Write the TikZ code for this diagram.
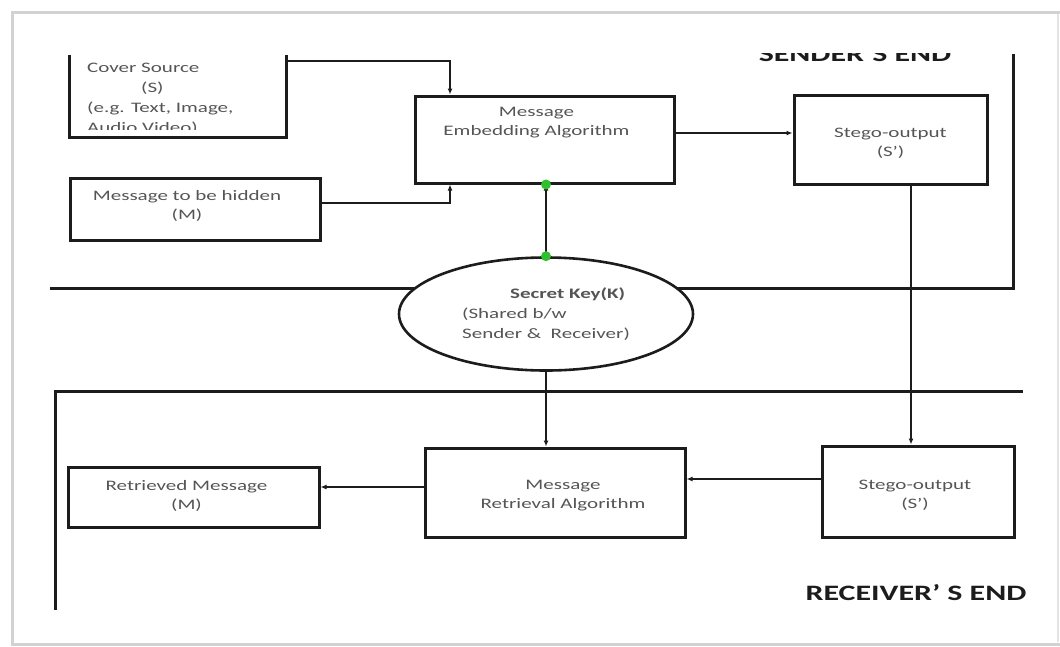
\documentclass[tikz,border=0pt]{standalone}
\usepackage{fontspec}
\setmainfont{Carlito}[FakeStretch=1.45]
\usepackage{tikz}
\usetikzlibrary{arrows.meta,positioning,shapes.geometric}
\definecolor{inkbox}{HTML}{1C1C1C}
\definecolor{inktext}{HTML}{555555}
\definecolor{framegrey}{HTML}{D2D2D2}
\definecolor{pingreen}{HTML}{2EC02E}
\tikzset{
  % ---- blocks ---------------------------------------------------------
  sbox/.style={
    draw=inkbox, line width=3pt, line join=miter, fill=white,
    inner sep=0pt},
  skey/.style={sbox, ellipse, line width=2.6pt, align=left,
    font=\fontsize{14.5}{20}\selectfont, text=inktext},
  stext/.style={font=\fontsize{14.5}{19}\selectfont, text=inktext,
    align=center, inner sep=0pt},
  shead/.style={font=\fontsize{22}{26}\selectfont\bfseries, text=inkbox,
    inner sep=0pt},
  % ---- connections ----------------------------------------------------
  sflow/.style={
    -{Latex[length=6pt,width=5pt]}, draw=inkbox, line width=1.7pt},
  sbound/.style={draw=inkbox, line width=3pt, line join=miter},
  spin/.style={fill=pingreen},
}
\begin{document}
\begin{tikzpicture}[x=1pt, y=-1pt]
\useasboundingbox (0,0) rectangle (1060,646);

% ---------------- page frame -----------------------------------------
\draw[framegrey, line width=3pt] (1060,12) -- (12,12) -- (12,644) -- (1060,644);
\draw[framegrey!60, line width=1.5pt] (1058,14) -- (1058,642);

% ---------------- boundaries -----------------------------------------
\coordinate (sendl) at (50,288);
\coordinate (sendr) at (1013,288);
\coordinate (sendt) at (1013,54);
\draw[sbound] (sendl) -- (sendr) -- (sendt);

\coordinate (recvr) at (1023,391);
\coordinate (recvl) at (55,391);
\coordinate (recvb) at (55,610);
\draw[sbound] (recvr) -- (recvl) -- (recvb);

% ---------------- sender side ----------------------------------------
\node[minimum width=216pt, minimum height=82pt, inner sep=0pt] (cover)
  at (178,96) {};
\draw[sbound] (cover.north west) -- (cover.south west)
  -- (cover.south east) -- (cover.north east);
\begin{scope}
  \clip (cover.north west) rectangle ([yshift=8pt]cover.south east);
  \node[stext, align=left, anchor=north west,
        font=\fontsize{14.5}{20}\selectfont] (covertext) at (87,63)
    {Cover Source\\\hspace*{54pt}(S)\\(e.g. Text, Image,\\Audio Video)};
\end{scope}

\node[sbox, minimum width=259pt, minimum height=87pt] (embed)
  at (544.5,139.5) {};
\node[stext] (embedtext) at ([xshift=-8pt, yshift=-28pt]embed.north)
  {Message\\Embedding Algorithm};

\node[sbox, minimum width=250pt, minimum height=62pt] (hidden)
  at (195,209) {};
\node[stext] (hiddentext) at ([xshift=-8pt, yshift=3.5pt]hidden.center)
  {Message to be hidden\\(M)};

\node[sbox, minimum width=193pt, minimum height=89pt, right=117pt of embed]
  (stego) {};
\node[stext] (stegotext) at ([yshift=-4pt]stego.center)
  {Stego-output\\(S’)};

\begin{scope}
  \clip (700,53) rectangle (1000,90);
  \node[shead, anchor=base] (sendhead) at (855,61.5) {SENDER’S END};
\end{scope}

% ---------------- shared key -----------------------------------------
\node[skey, minimum width=294pt, minimum height=113pt] (key) at (546,314)
  {\hspace*{48pt}\textbf{Secret Key(K)}\\(Shared b/w\\Sender \&\ \ Receiver)};

% ---------------- receiver side --------------------------------------
\node[sbox, minimum width=260pt, minimum height=89pt] (retr)
  at (555,492.5) {};
\node[stext] (retrtext) at ([xshift=8pt, yshift=-3pt]retr.center)
  {Message\\Retrieval Algorithm};

\node[sbox, minimum width=192pt, minimum height=91pt] (stegorx)
  at (918,491.5) {};
\node[stext] (stegorxtext) at ([xshift=-3pt, yshift=-4pt]stegorx.center)
  {Stego-output\\(S’)};

\node[sbox, minimum width=251pt, minimum height=60pt] (recv)
  at (193.5,497) {};
\node[stext] (recvtext) at ([xshift=-7pt, yshift=1.5pt]recv.center)
  {Retrieved Message\\(M)};

\node[shead, anchor=base] (recvhead) at (916,600) {RECEIVER’ S END};

% ---------------- flows ----------------------------------------------
\draw[sflow] ([yshift=-6pt]cover.north east) -| ([xshift=-94.5pt]embed.north);
\draw[sflow] ([yshift=6pt]hidden.east) -| ([xshift=-94.5pt]embed.south);

\coordinate (eout) at ([yshift=6.5pt]embed.east);
\draw[sflow] (eout) -- (eout -| stego.west);

\draw[sflow] (key.north) -- (key.north |- embed.south);
\fill[spin] (key.north) circle (5pt);
\fill[spin] (key.north |- embed.south) circle (5pt);

\coordinate (sdrop) at ([xshift=20.5pt]stego.south);
\draw[sflow] (sdrop) -- (sdrop |- stegorx.north);

\draw[sflow] (key.south) -- (key.south |- retr.north);

\coordinate (rin) at ([yshift=12.5pt]stegorx.west);
\draw[sflow] (rin) -- (rin -| retr.east);

\coordinate (rout) at ([yshift=5.5pt]retr.west);
\draw[sflow] (rout) -- (rout -| recv.east);

\end{tikzpicture}
\end{document}
